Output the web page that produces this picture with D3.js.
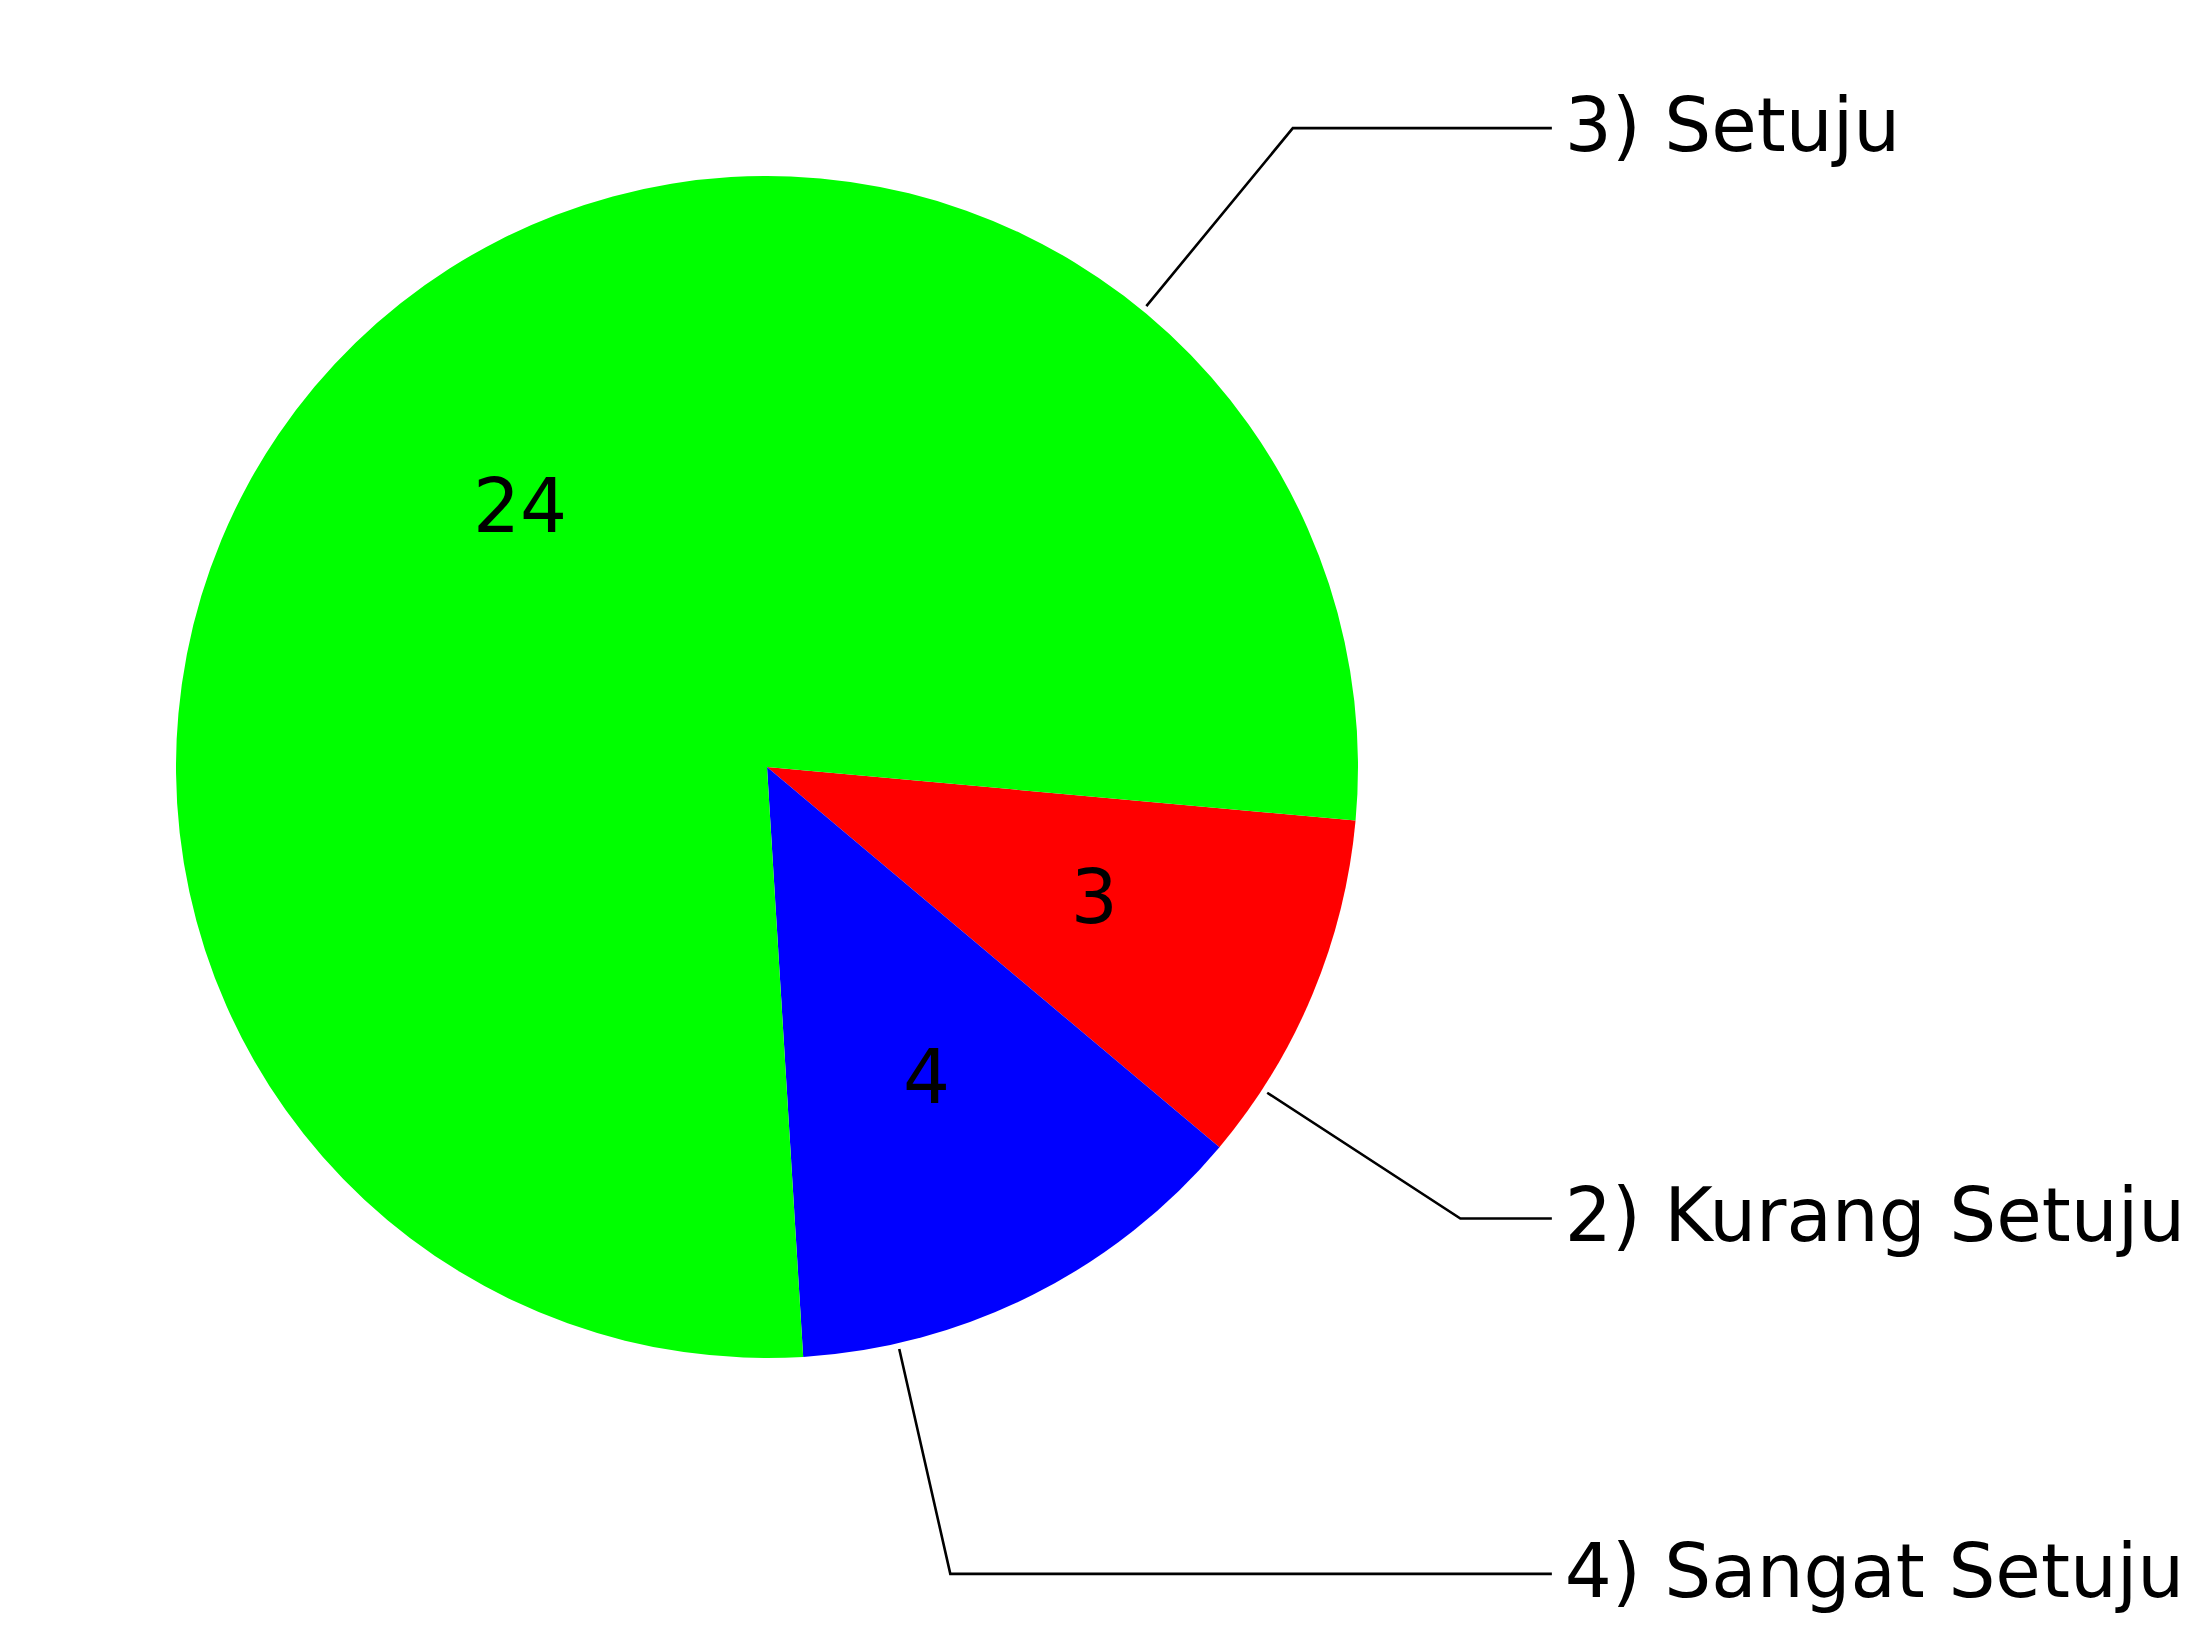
<!DOCTYPE html>
<html>
<head>
<meta charset="utf-8">
<script src="https://cdn.jsdelivr.net/npm/d3@7"></script>
<style>
  body { margin: 0; background: #fff; }
</style>
</head>
<body>
<div id="chart"></div>
<script>
const labels = ["2) Kurang Setuju", "4) Sangat Setuju", "3) Setuju"]
const values = [3, 4, 24]
const colors = ["#ff0000", "#0000ff", "#00ff00"]

const size = [2207, 1633]
const center = [767, 767]
const radius = 591
const fontSize = 74
const deg = Math.PI / 180

const svg = d3.select("#chart").append("svg")
  .attr("width", size[0])
  .attr("height", size[1])

const pie = d3.pie()
  .sort(null)
  .value(d => d)
  .startAngle(95.2 * deg)
  .endAngle(95.2 * deg + 2 * Math.PI)

const arcs = pie(values)

const arc = d3.arc()
  .innerRadius(0)
  .outerRadius(radius)

const g = svg.append("g")
  .attr("transform", `translate(${center[0]},${center[1]})`)

g.selectAll("path")
  .data(arcs)
  .join("path")
    .attr("d", arc)
    .attr("fill", (d, i) => colors[i])

// value labels at 0.6 r
const inner = d3.arc().innerRadius(radius * 1.2).outerRadius(0)
g.selectAll("text.value")
  .data(arcs)
  .join("text")
    .attr("class", "value")
    .attr("font-family", "DejaVu Sans")
    .attr("font-size", fontSize)
    .attr("text-anchor", "middle")
    .attr("x", d => inner.centroid(d)[0])
    .attr("y", d => inner.centroid(d)[1] + 19.5)
    .text(d => d.data)

// leader lines: radial out from 80% through the slice, then horizontal
const polar = (a, r) => [Math.sin(a) * r, -Math.cos(a) * r]
const lineEnd = radius * 1.328

const leaders = arcs.map((d, i) => {
  const a = d.startAngle + 0.8 * (d.endAngle - d.startAngle)
  const p0 = polar(a, radius * 1.01)
  const p1 = polar(a, radius * 1.4)
  return {label: labels[i], pts: [p0, p1, [lineEnd, p1[1]]]}
})

g.selectAll("path.leader")
  .data(leaders)
  .join("path")
    .attr("class", "leader")
    .attr("fill", "none")
    .attr("stroke", "#000")
    .attr("stroke-width", 2.6)
    .attr("d", d => d3.line()(d.pts))

g.selectAll("text.label")
  .data(leaders)
  .join("text")
    .attr("class", "label")
    .attr("font-family", "DejaVu Sans")
    .attr("font-size", fontSize)
    .attr("x", lineEnd + 13)
    .attr("y", d => d.pts[2][1] + 23)
    .text(d => d.label)
</script>
</body>
</html>
